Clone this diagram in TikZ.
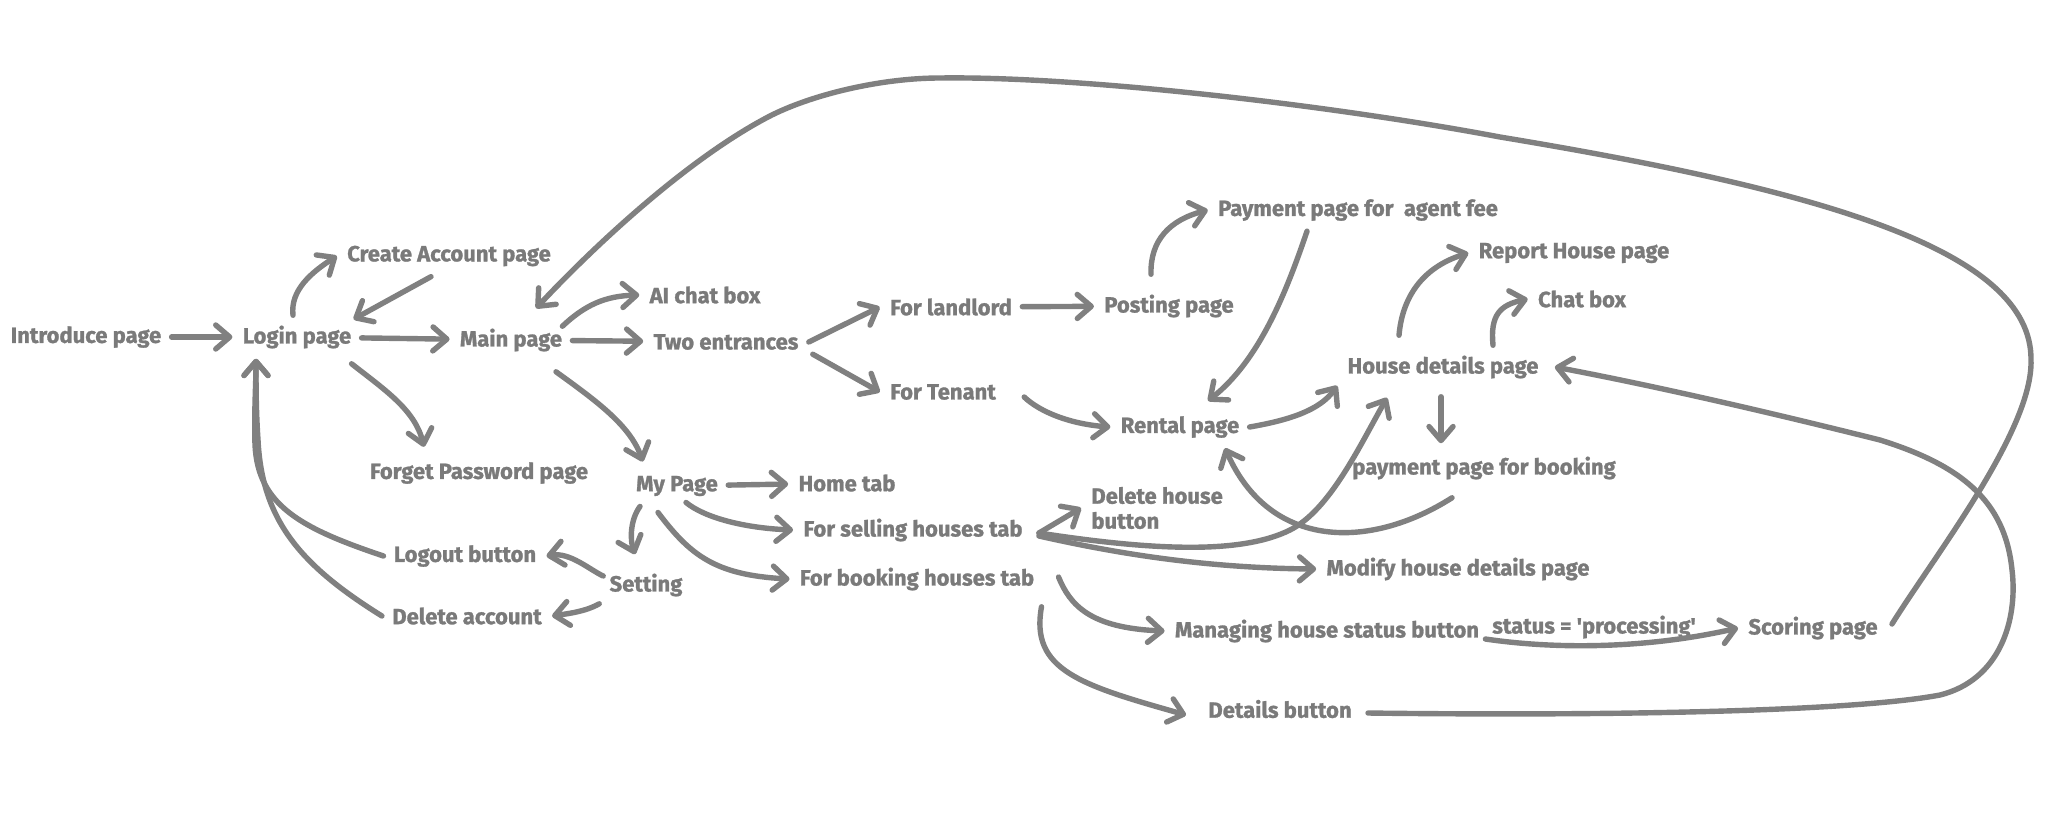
\documentclass[tikz,border=0pt]{standalone}
\usepackage{fontspec}
\setmainfont{Fira Sans}[BoldFeatures={FakeBold=1.2}]
\usetikzlibrary{arrows.meta,calc}
\definecolor{ink}{RGB}{122,122,122}
\definecolor{wire}{RGB}{128,128,128}
\begin{document}
\begin{tikzpicture}[x=0.5pt,y=0.5pt,
  lbl/.style={font=\bfseries\fontsize{11}{12.5}\selectfont, text=ink, inner sep=5pt},
  arr/.style={draw=wire, line width=2.7pt, line cap=round, line join=round,
    -{Straight Barb[round,length=7pt,width=12pt]}}]
\fill[white] (0,0) rectangle (2048,-814);
\useasboundingbox (0,0) rectangle (2048,-814);
% nodes
\node[lbl] (intro) at (86,-337) {Introduce page};
\node[lbl] (login) at (297,-337) {Login page};
\node[lbl] (create) at (449,-256) {Create Account page};
\node[lbl] (main) at (511,-340) {Main page};
\node[lbl] (aichat) at (705,-295) {AI chat box};
\node[lbl] (two) at (726,-342) {Two entrances};
\node[lbl] (landlord) at (951,-307) {For landlord};
\node[lbl] (tenant) at (943,-392) {For Tenant};
\node[lbl] (posting) at (1169,-306) {Posting page};
\node[lbl] (payagent) at (1358,-210) {Payment page for~ agent fee};
\node[lbl] (rental) at (1180,-427) {Rental page};
\node[lbl] (housedet) at (1443,-367) {House details page};
\node[lbl] (report) at (1574,-253) {Report House page};
\node[lbl] (chatbox) at (1582,-299) {Chat box};
\node[lbl] (paybook) at (1484,-468) {payment page for booking};
\node[lbl] (forget) at (479,-473) {Forget Password page};
\node[lbl] (mypage) at (677,-486) {My Page};
\node[lbl] (home) at (847,-483) {Home tab};
\node[lbl] (selling) at (913,-530) {For selling houses tab};
\node[lbl, anchor=west, align=left] (delhouse) at (1081,-508) {Delete house\\button};
\node[lbl] (logout) at (465,-556) {Logout button};
\node[lbl] (setting) at (646,-585) {Setting};
\node[lbl] (delacct) at (467,-616) {Delete account};
\node[lbl] (booking) at (917,-579) {For booking houses tab};
\node[lbl] (modify) at (1458,-569) {Modify house details page};
\node[lbl] (managing) at (1327,-631) {Managing house status button};
\node[lbl] (status) at (1594,-627) {status = \textquotesingle processing\textquotesingle};
\node[lbl] (scoring) at (1813,-628) {Scoring page};
\node[lbl] (details) at (1280,-709) {Details button};
% connectors
\draw[arr] (intro) -- (login);
\draw[arr] ($(login.north)+(-4,0)$) .. controls (290,-290) and (312,-272) .. (create.west);
\draw[arr] ($(create.south)+(-18,0)$) -- ($(login.north east)+(-8,-4)$);
\draw[arr] (login) -- (main);
\draw[arr] ($(main.north east)+(-10,-8)$) .. controls (585,-305) and (605,-296) .. (aichat.west);
\draw[arr] (main) -- (two);
\draw[arr] ($(main.south)+(45,-10)$) .. controls (595,-400) and (630,-425) .. ($(mypage.north west)+(17,4)$);
\draw[arr] ($(login.south east)+(-10,-5)$) .. controls (385,-390) and (415,-410) .. ($(forget.north)+(-55,5)$);
\draw[arr] (two.east) -- (landlord.west);
\draw[arr] ($(two.south east)+(4,6)$) -- (tenant.west);
\draw[arr] (landlord) -- (posting);
\draw[arr] ($(posting.north)+(-18,10)$) .. controls (1150,-240) and (1170,-220) .. (payagent.west);
\draw[arr] ($(payagent.south)+(-51,0)$) .. controls (1287,-290) and (1260,-360) .. ($(rental.north)+(28,5)$);
\draw[arr] ($(tenant.east)+(18,-5)$) .. controls (1040,-412) and (1070,-424) .. (rental.west);
\draw[arr] (rental.east) .. controls (1290,-420) and (1320,-410) .. ($(housedet.south west)+(0,3)$);
\draw[arr] ($(housedet.north)+(-44,10)$) .. controls (1402,-300) and (1420,-268) .. (report.west);
\draw[arr] ($(housedet.north)+(50,0)$) .. controls (1490,-315) and (1500,-305) .. (chatbox.west);
\draw[arr] ($(housedet.south)+(-2,-8)$) -- ($(paybook.north)+(-43,3)$);
\draw[arr] ($(paybook.south)+(-32,-8)$) .. controls (1370,-550) and (1270,-550) .. ($(rental.south)+(45,0)$);
\draw[arr] ($(selling.east)+(6,-3)$) -- (delhouse.west);
\draw[arr] ($(selling.east)+(6,-3)$) .. controls (1150,-550) and (1240,-555) .. (1290,-530)
   .. controls (1330,-510) and (1360,-445) .. ($(housedet.south)+(-56,-9)$);
\draw[arr] ($(selling.east)+(6,-6)$) .. controls (1110,-552) and (1200,-568) .. (modify.west);
\draw[arr] (mypage) -- (home);
\draw[arr] ($(mypage.south)+(9,4)$) .. controls (705,-518) and (745,-528) .. (selling.west);
\draw[arr] ($(mypage.south)+(-19,-6)$) .. controls (690,-555) and (715,-575) .. (booking.west);
\draw[arr] ($(mypage.south)+(-37,0)$) .. controls (630,-520) and (630,-540) .. ($(setting.north)+(-11,9)$);
\draw[arr] ($(setting.west)+(4,9)$) .. controls (590,-570) and (570,-552) .. (logout.east);
\draw[arr] ($(setting.south west)+(0,3)$) .. controls (585,-612) and (565,-614) .. (delacct.east);
\draw[arr] (logout.west) .. controls (300,-528) and (258,-505) .. (255,-445)
   .. controls (254,-410) and (256,-385) .. ($(login.south)+(-41,0)$);
\draw[arr] (delacct.west) .. controls (300,-565) and (262,-520) .. (258,-440)
   .. controls (256,-410) and (256,-385) .. ($(login.south)+(-41,0)$);
\draw[arr] ($(booking.east)+(14,2)$) .. controls (1070,-605) and (1090,-628) .. (managing.west);
\draw[arr] ($(booking.south east)+(-3,-6)$) .. controls (1030,-670) and (1080,-685) .. ($(details.west)+(-12,-6)$);
\draw[arr] ($(managing.east)+(-4,-8)$) .. controls (1560,-650) and (1650,-648) .. (scoring.west);
\draw[arr] ($(scoring.east)+(4,4)$) .. controls (1935,-555) and (2033,-430) .. (2031,-360)
   .. controls (2032,-250) and (1820,-190) .. (1500,-137)
   .. controls (1330,-105) and (1080,-76) .. (940,-78)
   .. controls (880,-78) and (810,-95) .. (768,-117)
   .. controls (690,-158) and (600,-240) .. ($(main.north)+(25,10)$);
\draw[arr] ($(details.east)+(6,-4)$) .. controls (1600,-716) and (1850,-712) .. (1940,-695)
   .. controls (2000,-680) and (2018,-620) .. (2012,-570)
   .. controls (2005,-500) and (1960,-465) .. (1880,-440)
   .. controls (1760,-410) and (1650,-385) .. ($(housedet.east)+(6,0)$);
\end{tikzpicture}
\end{document}
